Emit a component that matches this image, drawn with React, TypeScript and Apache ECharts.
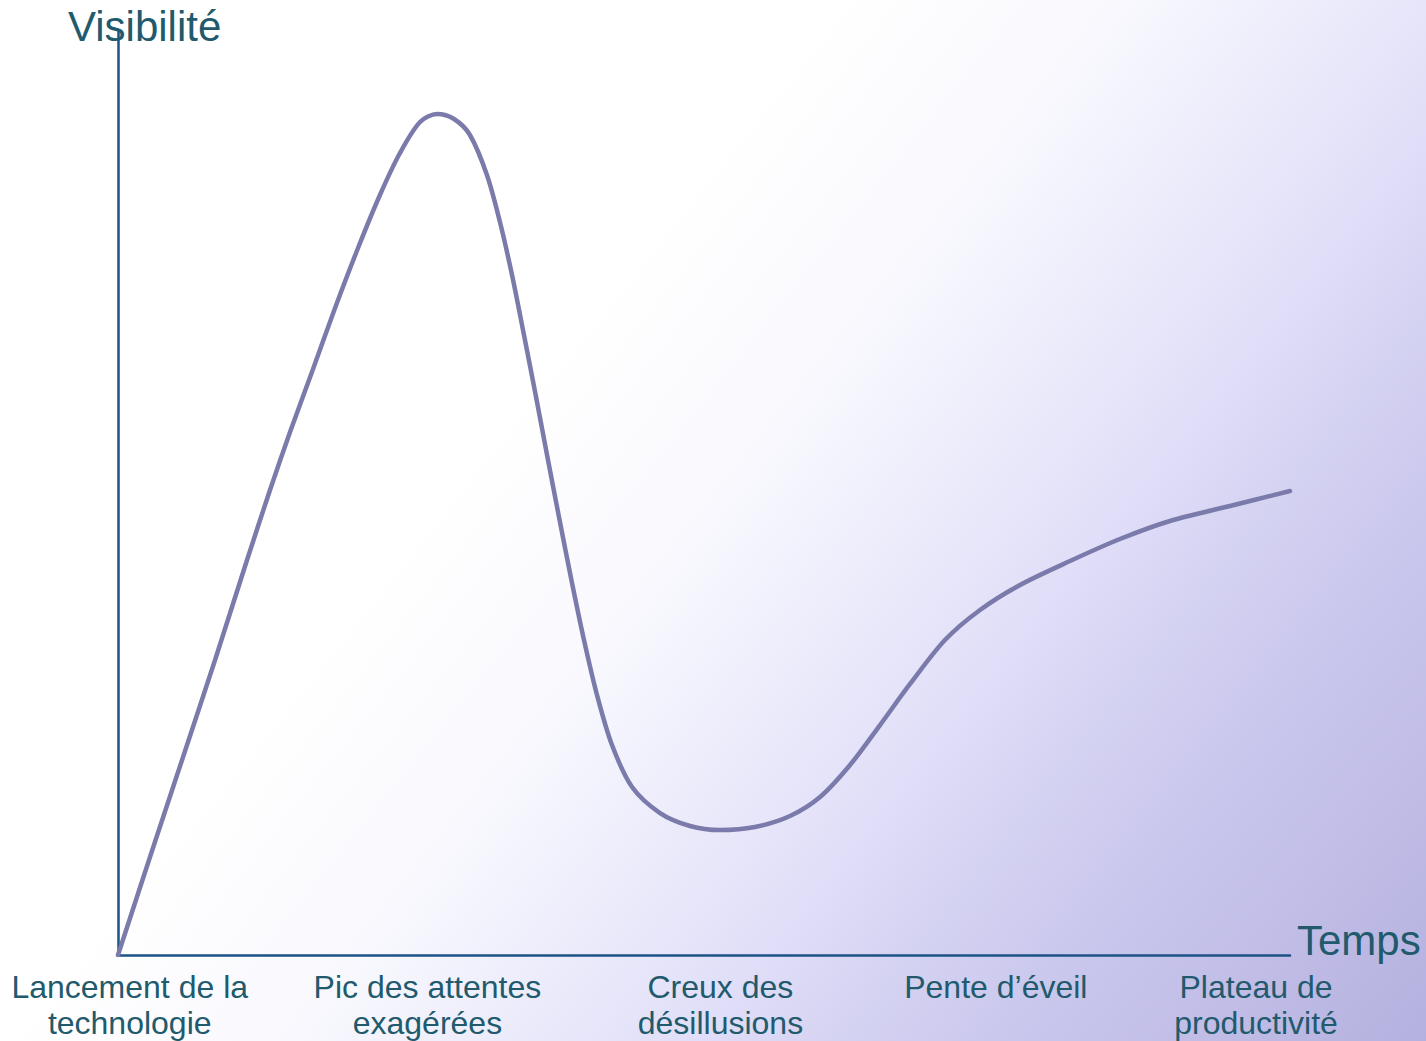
import React, { useEffect, useRef } from "react";
import * as echarts from "echarts";

// Hype-cycle curve: time (x, 0..100) vs visibility (y, 0..100)
const curveX = [0, 2.73, 5.55, 8.28, 11.01, 12.97, 14.68, 16.55, 18.52, 20.48, 22.35, 24.06, 25.77, 27.22, 28.67, 30.03, 31.48, 32.59, 33.62, 34.64, 35.67, 36.69, 37.71, 38.74, 39.76, 40.87, 42.15, 43.86, 46.25, 48.81, 51.37, 54.35, 57.34, 59.9, 62.46, 65.02, 67.58, 70.56, 73.55, 76.96, 81.23, 85.49, 89.76, 94.88, 100];
const curveY = [0, 10.59, 21.41, 31.89, 42.7, 50.27, 56.54, 63.03, 69.95, 76.43, 82.16, 86.7, 90.05, 90.92, 90.38, 88.65, 84.32, 79.24, 73.51, 67.03, 60.32, 53.51, 46.81, 40.22, 34.05, 28.11, 22.7, 18.16, 15.35, 13.95, 13.51, 13.84, 15.03, 17.08, 20.54, 24.86, 29.3, 34.05, 37.3, 40.0, 42.59, 44.97, 46.92, 48.54, 50.16];

// Stage labels along the time axis
const stageNames = [
  "Lancement de la\ntechnologie",
  "Pic des attentes\nexagérées",
  "Creux des\ndésillusions",
  "Pente d’éveil",
  "Plateau de\nproductivité",
];
const stagePositions = [1, 26.4, 51.4, 74.9, 97.1];

const yAxisTitle = "Visibilité";
const xAxisTitle = "Temps";

const FONT = "'Liberation Sans', Arial, Helvetica, sans-serif";
const TEXT_COLOR = "#215a6c";
const AXIS_COLOR = "#1c5285";
const CURVE_COLOR = "#7a7aab";

export default function App() {
  const ref = useRef<HTMLDivElement>(null);

  useEffect(() => {
    if (!ref.current) return;
    const chart = echarts.init(ref.current, null, { renderer: "svg" });
    const data = curveX.map((x, i) => [x, curveY[i]]);

    const option: any = {
      animation: false,
      backgroundColor: new echarts.graphic.LinearGradient(
        0,
        0,
        1377,
        1102,
        [
          { offset: 0, color: "#ffffff" },
          { offset: 0.37, color: "#ffffff" },
          { offset: 0.5, color: "#f8f8fe" },
          { offset: 0.627, color: "#e7e6fa" },
          { offset: 0.675, color: "#e0def8" },
          { offset: 0.731, color: "#d6d4f2" },
          { offset: 0.807, color: "#cbc8ee" },
          { offset: 1, color: "#b5b1df" },
        ],
        true
      ),
      grid: { left: 118, top: 30, width: 1172, height: 925, containLabel: false },
      xAxis: {
        type: "value",
        min: 0,
        max: 100,
        axisLine: { show: true, onZero: false, lineStyle: { color: AXIS_COLOR, width: 2.5 } },
        axisTick: { show: false },
        splitLine: { show: false },
        axisLabel: {
          customValues: stagePositions,
          formatter: (v: number) => {
            const idx = stagePositions.findIndex((p) => Math.abs(p - v) < 1e-6);
            return idx >= 0 ? stageNames[idx] : "";
          },
          fontFamily: FONT,
          fontSize: 32,
          lineHeight: 36,
          color: TEXT_COLOR,
          margin: 14,
          showMinLabel: true,
          showMaxLabel: true,
          hideOverlap: false,
        },
      },
      yAxis: {
        type: "value",
        min: 0,
        max: 100,
        axisLine: { show: true, onZero: false, lineStyle: { color: AXIS_COLOR, width: 2.5 } },
        axisTick: { show: false },
        axisLabel: { show: false },
        splitLine: { show: false },
      },
      graphic: {
        elements: [
          {
            type: "text",
            left: 68,
            top: 5,
            z: 10,
            style: {
              text: yAxisTitle,
              font: `42px ${FONT}`,
              fill: TEXT_COLOR,
            },
          },
          {
            type: "text",
            left: 1297,
            top: 919,
            z: 10,
            style: {
              text: xAxisTitle,
              font: `42px ${FONT}`,
              fill: TEXT_COLOR,
            },
          },
        ],
      },
      series: [
        {
          type: "line",
          data,
          smooth: 0.3,
          showSymbol: false,
          symbol: "none",
          lineStyle: { color: CURVE_COLOR, width: 4.5, cap: "round" },
          z: 3,
        },
      ],
    };
    chart.setOption(option);
    return () => chart.dispose();
  }, []);

  return (
    <div
      ref={ref}
      style={{ position: "absolute", left: 0, top: 0, width: 1426, height: 1041 }}
    />
  );
}
